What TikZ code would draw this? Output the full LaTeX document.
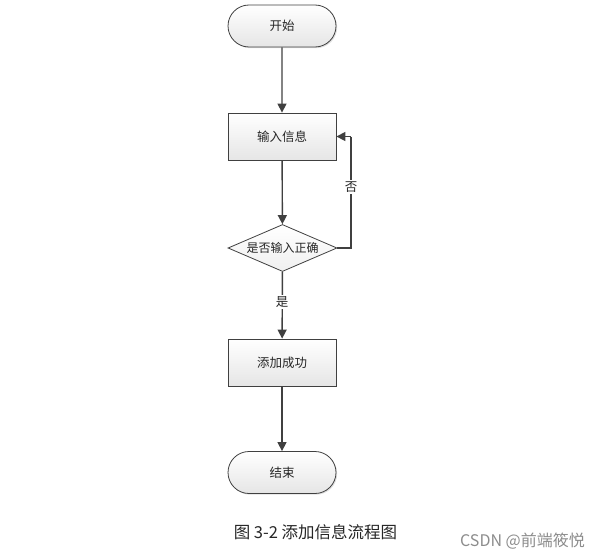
\documentclass[tikz,border=0pt]{standalone}
\usepackage{fontspec}
\setmainfont{Noto Sans CJK SC}
\usetikzlibrary{shapes.geometric,shapes.misc,arrows.meta,shadows}
\begin{document}
\begin{tikzpicture}[x=1pt,y=-1pt,
  every node/.style={font=\fontsize{12.5}{14}\selectfont, text=black!85},
  base/.style={draw=black!75, line width=0.8pt, top color=white, bottom color=black!10,
     drop shadow={shadow xshift=1.2pt,shadow yshift=-1.2pt,opacity=0.25}},
  term/.style={base, rounded rectangle, minimum width=108pt, minimum height=42pt, inner sep=0pt},
  proc/.style={base, rectangle, minimum width=108pt, minimum height=47pt, inner sep=0pt},
  dec/.style={draw=black!75, line width=0.8pt, top color=white, bottom color=black!6, diamond, aspect=2.3, minimum width=109pt, minimum height=47pt, inner sep=0pt},
  conn/.style={draw=black!75, line width=1.4pt, -{Triangle[length=9pt,width=9pt]}},
  lab/.style={fill=white, inner sep=1.5pt}]
\useasboundingbox (0,0) rectangle (599,559);
\node[term] (start) at (282,26) {开始};
\node[proc] (input) at (282,136.5) {输入信息};
\node[dec] (check) at (282.5,248) {\fontsize{12}{14}\selectfont 是否输入正确};
\node[proc] (ok) at (282,362.5) {添加成功};
\node[term] (end) at (282,472.5) {结束};
\coordinate (c1) at (351,248);
\coordinate (c2) at (351,136.5);
\draw[conn] (start) -- (input);
\draw[conn] (input) -- (check);
\draw[conn] (check) -- (ok);
\draw[conn] (ok) -- (end);
\draw[draw=black!75, line width=1.4pt] (check.east) -- (c1) -- (c2);
\draw[conn] (c2) -- (input.east);
\node[lab] (yes) at (282,302) {是};
\node[lab] (no) at (351,187) {否};
\node[font=\fontsize{16.5}{18}\selectfont, text=black!85] (cap) at (315.5,532) {图 3-2 添加信息流程图};
\node[font=\fontsize{16}{18}\selectfont, text=black!45, anchor=east, inner sep=0pt] (wm) at (585,541) {CSDN @前端筱悦};
\end{tikzpicture}
\end{document}
